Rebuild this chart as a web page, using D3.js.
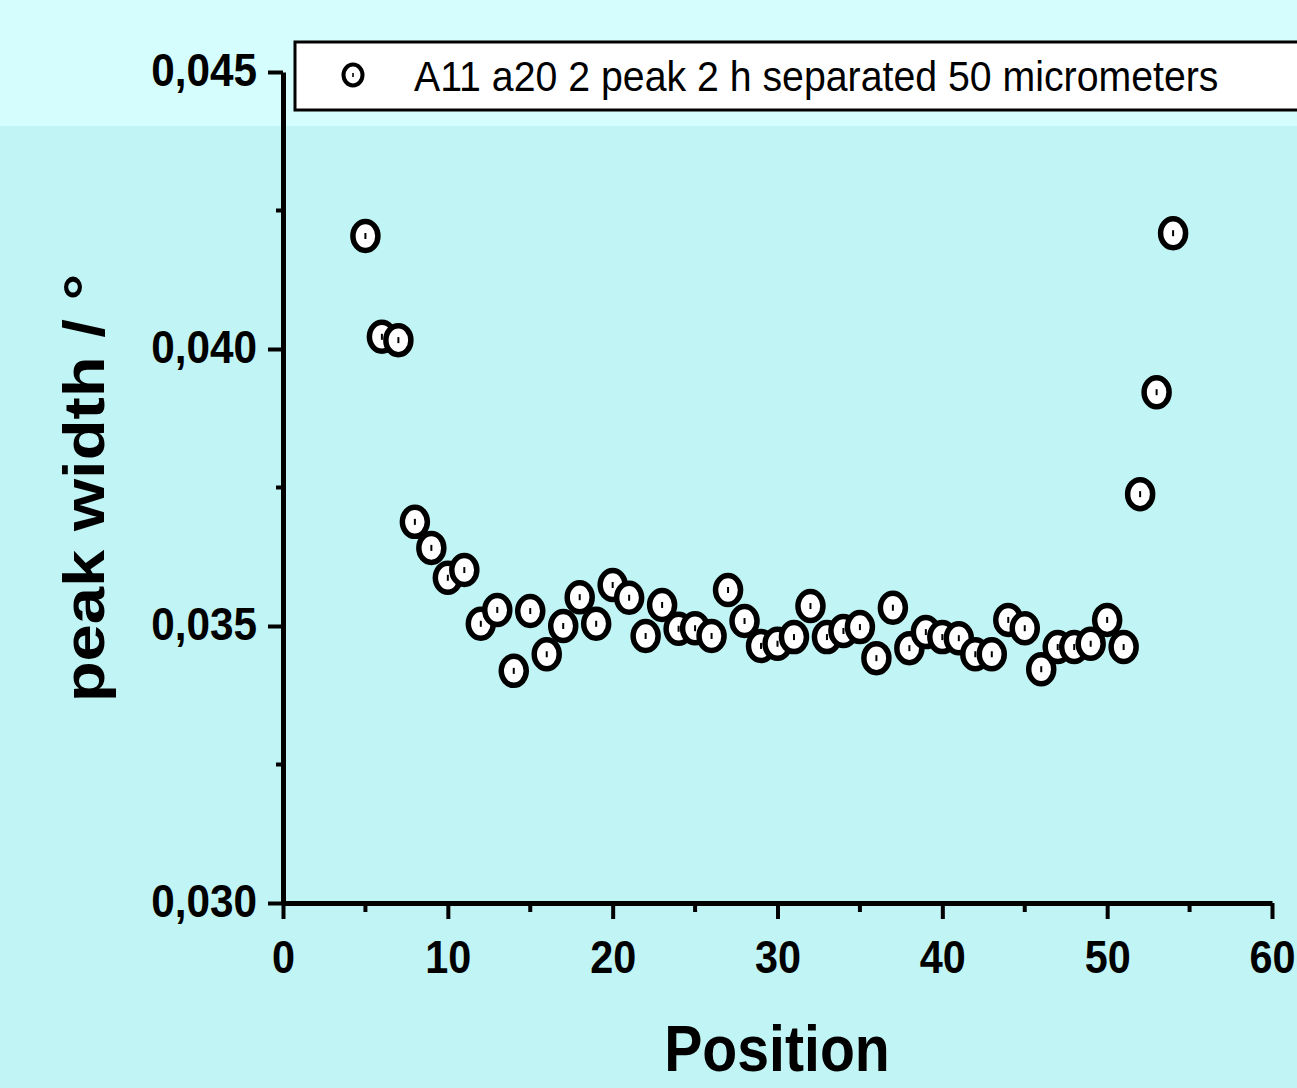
<!DOCTYPE html>
<html>
<head>
<meta charset="utf-8">
<script src="https://cdn.jsdelivr.net/npm/d3@7"></script>
<style>
  html, body { margin: 0; padding: 0; background: #c1f4f4; }
  svg { display: block; }
</style>
</head>
<body>
<svg id="chart" width="1297" height="1088"></svg>
<script>
// positions along the sample and the measured peak widths (degrees)
const positions = [5, 6, 7, 8, 9, 10, 11, 12, 13, 14, 15, 16, 17, 18, 19, 20, 21, 22, 23, 24, 25, 26, 27, 28, 29,
  30, 31, 32, 33, 34, 35, 36, 37, 38, 39, 40, 41, 42, 43, 44, 45, 46, 47, 48, 49, 50, 51, 52, 53, 54];
const peakWidths = [0.04204, 0.04022, 0.04016, 0.03688, 0.03641, 0.03587, 0.03601, 0.03504, 0.03529, 0.03419,
  0.03527, 0.03449, 0.03500, 0.03552, 0.03504, 0.03574, 0.03551, 0.03482, 0.03538, 0.03495,
  0.03496, 0.03482, 0.03565, 0.03509, 0.03464, 0.03468, 0.03480, 0.03536, 0.03480, 0.03491,
  0.03498, 0.03442, 0.03533, 0.03460, 0.03489, 0.03480, 0.03478, 0.03449, 0.03449, 0.03511,
  0.03496, 0.03422, 0.03462, 0.03462, 0.03468, 0.03511, 0.03462, 0.03738, 0.03922, 0.04209];
const xTicks = [0, 10, 20, 30, 40, 50, 60];
const yTicks = [0.030, 0.035, 0.040, 0.045];
const seriesName = "A11 a20 2 peak 2 h separated 50 micrometers";

const svg = d3.select("#chart");
const W = 1297, H = 1088;
const plotLeft = 283, plotRight = 1272, plotTop = 72, plotBottom = 903;

// background, lighter band at the top
svg.append("rect").attr("width", W).attr("height", H).attr("fill", "#c1f4f4");
svg.append("rect").attr("width", W).attr("height", 126).attr("fill", "#d5fdfd");

const x = d3.scaleLinear().domain([0, 60]).range([plotLeft, plotRight]);
const y = d3.scaleLinear().domain([0.030, 0.045]).range([plotBottom, plotTop]);

const fmt = d => d3.format(".3f")(d).replace(".", ",");
const labelFont = "'Liberation Sans', Arial, sans-serif";

// minor ticks
svg.append("g").selectAll("line")
  .data(d3.range(5, 60, 10))
  .join("line")
  .attr("x1", d => x(d)).attr("x2", d => x(d))
  .attr("y1", plotBottom).attr("y2", plotBottom + 9)
  .attr("stroke", "#000").attr("stroke-width", 4);
svg.append("g").selectAll("line")
  .data([0.0325, 0.0375, 0.0425])
  .join("line")
  .attr("x1", plotLeft).attr("x2", plotLeft - 7)
  .attr("y1", d => y(d)).attr("y2", d => y(d))
  .attr("stroke", "#000").attr("stroke-width", 4);

// x axis
const xAxis = svg.append("g")
  .attr("transform", `translate(0,${plotBottom})`)
  .call(d3.axisBottom(x).tickValues(xTicks).tickSize(16).tickSizeOuter(0).tickFormat(d3.format("d")));
xAxis.select(".domain").attr("stroke", "#000").attr("stroke-width", 5);
xAxis.selectAll(".tick line").attr("stroke", "#000").attr("stroke-width", 4);
xAxis.selectAll(".tick text")
  .attr("y", 0).attr("dy", null)
  .attr("transform", "translate(0,70) scale(0.88,1)")
  .attr("text-anchor", "middle")
  .style("font-family", labelFont).style("font-weight", "bold").style("font-size", "47px")
  .attr("fill", "#000");

// y axis
const yAxis = svg.append("g")
  .attr("transform", `translate(${plotLeft},0)`)
  .call(d3.axisLeft(y).tickValues(yTicks).tickSize(15).tickSizeOuter(0).tickFormat(fmt));
yAxis.select(".domain").attr("stroke", "#000").attr("stroke-width", 5);
yAxis.selectAll(".tick line").attr("stroke", "#000").attr("stroke-width", 4);
yAxis.selectAll(".tick text")
  .attr("x", 0).attr("dy", null)
  .attr("transform", "translate(-26,13) scale(0.9,1)")
  .attr("text-anchor", "end")
  .style("font-family", labelFont).style("font-weight", "bold").style("font-size", "47px")
  .attr("fill", "#000");
svg.selectAll(".domain").attr("fill", "none");

// axis titles
svg.append("text")
  .attr("transform", `translate(777,1071) scale(0.88,1)`)
  .attr("text-anchor", "middle")
  .style("font-family", labelFont).style("font-weight", "bold").style("font-size", "65px")
  .text("Position");
svg.append("text")
  .attr("transform", `translate(104,488) scale(0.86,1) rotate(-90)`)
  .attr("text-anchor", "middle")
  .style("font-family", labelFont).style("font-weight", "bold").style("font-size", "67px")
  .text("peak width / °");

// points
const data = positions.map((p, i) => ({ p: p, w: peakWidths[i] }));
const pts = svg.append("g").selectAll("g")
  .data(data)
  .join("g")
  .attr("transform", d => `translate(${x(d.p)},${y(d.w)})`);
pts.append("ellipse")
  .attr("rx", 12.5).attr("ry", 14.5)
  .attr("fill", "#fff").attr("stroke", "#000").attr("stroke-width", 5.5);
pts.append("rect")
  .attr("x", -1).attr("y", -3).attr("width", 2).attr("height", 6)
  .attr("fill", "#000");

// legend
const legend = svg.append("g");
legend.append("rect")
  .attr("x", 295).attr("y", 42).attr("width", 1020).attr("height", 68)
  .attr("fill", "#fff").attr("stroke", "#000").attr("stroke-width", 3);
legend.append("ellipse")
  .attr("cx", 353).attr("cy", 75).attr("rx", 9.5).attr("ry", 10.5)
  .attr("fill", "#fff").attr("stroke", "#000").attr("stroke-width", 4);
legend.append("rect")
  .attr("x", 352.2).attr("y", 73).attr("width", 1.6).attr("height", 4).attr("fill", "#000");
legend.append("text")
  .attr("transform", "translate(414,91) scale(0.935,1)")
  .style("font-family", labelFont).style("font-size", "42px")
  .attr("fill", "#000")
  .text(seriesName);
</script>
</body>
</html>
